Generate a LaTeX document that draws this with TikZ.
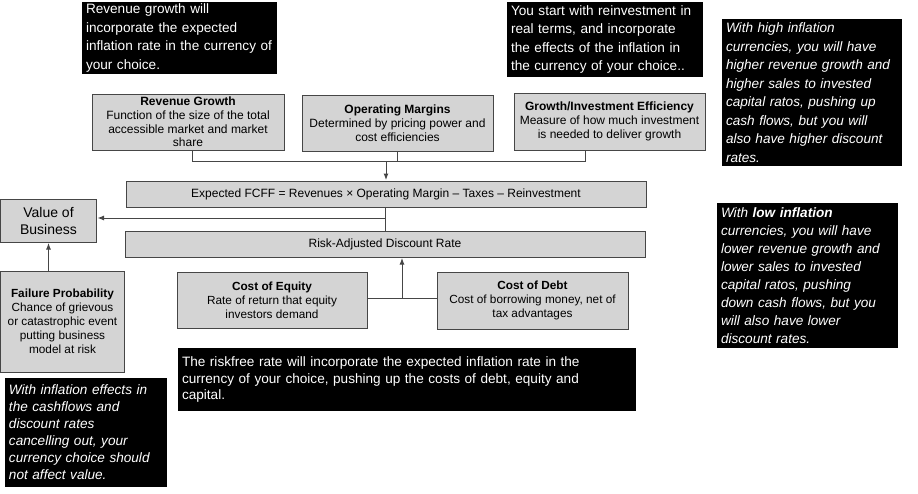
\documentclass[tikz,border=0pt]{standalone}
\usepackage{fontspec}
\setmainfont{Liberation Sans}
\usetikzlibrary{arrows.meta}
\definecolor{boxgray}{RGB}{212,212,212}
\definecolor{linegray}{RGB}{70,70,70}
\tikzset{
  gbox/.style={draw=linegray, line width=1pt, fill=boxgray, inner sep=0pt, align=center, font=\fontsize{12}{13.8}\selectfont},
  bbox/.style={fill=black, text=white, inner xsep=4pt, inner ysep=0pt, align=left, font=\fontsize{13.6}{18.6}\selectfont},
  conn/.style={draw=linegray, line width=1pt},
  arr/.style={conn, -{Latex[length=6.5pt,width=5pt]}, shorten >=0.5pt}
}
\begin{document}
\begin{tikzpicture}[x=1pt,y=-1pt]
\useasboundingbox (0,0) rectangle (918,493);

% notes
\node[bbox, text width=187, minimum height=72] (note rev) at (179.5,38) {Revenue growth will\\incorporate the expected\\inflation rate in the currency of\\your choice.};
\node[bbox, text width=188, minimum height=75] (note reinv) at (605,39.5) {You start with reinvestment in\\real terms, and incorporate\\the effects of the inflation in\\the currency of your choice..};
\node[bbox, text width=172, minimum height=147, font=\fontsize{13.6}{18.5}\selectfont\itshape] (note high) at (812,92.5) {With high inflation\\currencies, you will have\\higher revenue growth and\\higher sales to invested\\capital ratos, pushing up\\cash flows, but you will\\also have higher discount\\rates.};
\node[bbox, text width=173, minimum height=145, font=\fontsize{13.6}{18}\selectfont\itshape] (note low) at (807.5,275.5) {With \textbf{low inflation}\\currencies, you will have\\lower revenue growth and\\lower sales to invested\\capital ratos, pushing\\down cash flows, but you\\will also have lower\\discount rates.};
\node[bbox, text width=450, minimum height=63, font=\fontsize{13.6}{16.5}\selectfont] (note rf) at (407,379.5) {The riskfree rate will incorporate the expected inflation rate in the\\currency of your choice, pushing up the costs of debt, equity and\\capital.};
\node[bbox, text width=154, minimum height=109, font=\fontsize{13.6}{17}\selectfont\itshape] (note value) at (86,432.5) {With inflation effects in\\the cashflows and\\discount rates\\cancelling out, your\\currency choice should\\not affect value.};

% drivers
\node[gbox, minimum width=192, minimum height=56] (rev) at (188,122) {\textbf{Revenue Growth}\\Function of the size of the total\\accessible market and market\\share};
\node[gbox, minimum width=191, minimum height=56] (opm) at (397.5,123) {\textbf{Operating Margins}\\Determined by pricing power and\\cost efficiencies};
\node[gbox, minimum width=191, minimum height=57] (ginv) at (609.5,121.5) {\textbf{Growth/Investment Efficiency}\\Measure of how much investment\\is needed to deliver growth};

\node[gbox, minimum width=520, minimum height=26] (fcff) at (386,194) {Expected FCFF = Revenues × Operating Margin – Taxes – Reinvestment};
\node[gbox, minimum width=520, minimum height=26] (risk) at (385,244) {Risk-Adjusted Discount Rate};
\node[gbox, minimum width=96, minimum height=43, font=\fontsize{14}{17}\selectfont] (value) at (48.5,220.5) {Value of\\Business};
\node[gbox, minimum width=124, minimum height=101, font=\fontsize{11.8}{14}\selectfont] (fail) at (62.5,321.5) {\textbf{Failure Probability}\\Chance of grievous\\or catastrophic event\\putting business\\model at risk};
\node[gbox, minimum width=190, minimum height=56, font=\fontsize{11.8}{14}\selectfont] (equity) at (272,300) {\textbf{Cost of Equity}\\Rate of return that equity\\investors demand};
\node[gbox, minimum width=191, minimum height=57, font=\fontsize{11.8}{14}\selectfont] (debt) at (532.5,300.5) {\textbf{Cost of Debt}\\Cost of borrowing money, net of\\tax advantages};

% connectors
\coordinate (rj) at (192,161);
\coordinate (gj) at (585,161);
\coordinate (vj) at (385,218);
\coordinate (dj) at (402,298);
\draw[conn] (rj |- rev.south) -- (rj) -- (gj) -- (gj |- ginv.south);
\draw[conn] (opm.south) -- (opm.south |- rj);
\draw[arr] (fcff.north |- rj) -- (fcff.north);
\draw[conn] (vj |- fcff.south) -- (vj |- risk.north);
\draw[arr] (vj) -- (value.east |- vj);
\draw[arr] (value.south |- fail.north) -- (value.south);
\draw[conn] (equity.east |- dj) -- (debt.west |- dj);
\draw[arr] (dj) -- (dj |- risk.south);
\end{tikzpicture}
\end{document}
